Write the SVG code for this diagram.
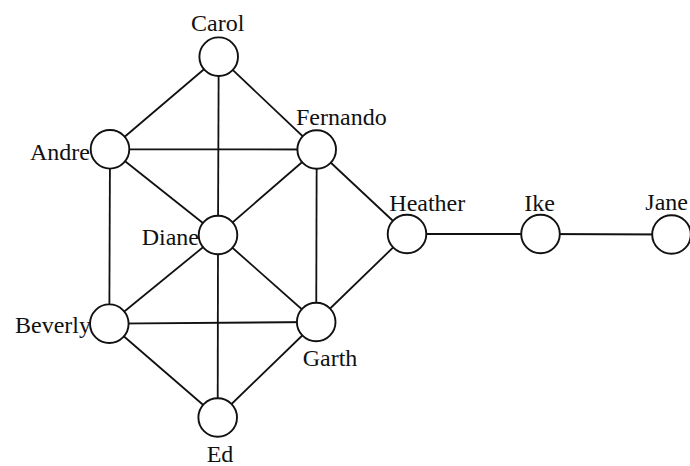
<svg xmlns="http://www.w3.org/2000/svg" width="690" height="466" viewBox="0 0 690 466">
  <style>
    .edge { stroke: #111; stroke-width: 1.8; fill: none; }
    .node circle { fill: #fff; stroke: #111; stroke-width: 1.9; }
    .node text { font-family: "Liberation Serif", "Times New Roman", serif; font-size: 24px; fill: #111; }
  </style>
  <rect width="690" height="466" fill="#fff"/>
  <g id="connectors">
    <line class="edge" x1="218.7" y1="56.7" x2="110" y2="149.3"/>
    <line class="edge" x1="218.7" y1="56.7" x2="316.7" y2="149.5"/>
    <line class="edge" x1="218.7" y1="56.7" x2="218" y2="235"/>
    <line class="edge" x1="110" y1="149.3" x2="316.7" y2="149.5"/>
    <line class="edge" x1="110" y1="149.3" x2="218" y2="235"/>
    <line class="edge" x1="110" y1="149.3" x2="109.3" y2="323.7"/>
    <line class="edge" x1="316.7" y1="149.5" x2="218" y2="235"/>
    <line class="edge" x1="316.7" y1="149.5" x2="316.2" y2="322"/>
    <line class="edge" x1="316.7" y1="149.5" x2="407" y2="234"/>
    <line class="edge" x1="218" y1="235" x2="109.3" y2="323.7"/>
    <line class="edge" x1="218" y1="235" x2="316.2" y2="322"/>
    <line class="edge" x1="218" y1="235" x2="217.7" y2="417.5"/>
    <line class="edge" x1="109.3" y1="323.7" x2="316.2" y2="322"/>
    <line class="edge" x1="109.3" y1="323.7" x2="217.7" y2="417.5"/>
    <line class="edge" x1="316.2" y1="322" x2="217.7" y2="417.5"/>
    <line class="edge" x1="316.2" y1="322" x2="407" y2="234"/>
    <line class="edge" x1="407" y1="234" x2="540.5" y2="234"/>
    <line class="edge" x1="540.5" y1="234" x2="671.5" y2="234.5"/>
  </g>
  <g id="carol" class="node">
    <circle cx="218.7" cy="56.7" r="19.3"/>
    <text x="191" y="31">Carol</text>
  </g>
  <g id="andre" class="node">
    <circle cx="110" cy="149.3" r="19.3"/>
    <text x="90" y="160" text-anchor="end">Andre</text>
  </g>
  <g id="fernando" class="node">
    <circle cx="316.7" cy="149.5" r="19.3"/>
    <text x="296" y="125">Fernando</text>
  </g>
  <g id="diane" class="node">
    <circle cx="218" cy="235" r="19.3"/>
    <text x="141.7" y="245">Diane</text>
  </g>
  <g id="heather" class="node">
    <circle cx="407" cy="234" r="19.3"/>
    <text x="389.3" y="211">Heather</text>
  </g>
  <g id="ike" class="node">
    <circle cx="540.5" cy="234" r="19.3"/>
    <text x="524.3" y="211">Ike</text>
  </g>
  <g id="jane" class="node">
    <circle cx="671.5" cy="234.5" r="19.3"/>
    <text x="688" y="210" text-anchor="end">Jane</text>
  </g>
  <g id="beverly" class="node">
    <circle cx="109.3" cy="323.7" r="19.3"/>
    <text x="15" y="333">Beverly</text>
  </g>
  <g id="garth" class="node">
    <circle cx="316.2" cy="322" r="19.3"/>
    <text x="302.7" y="366">Garth</text>
  </g>
  <g id="ed" class="node">
    <circle cx="217.7" cy="417.5" r="19.3"/>
    <text x="206.7" y="461.7">Ed</text>
  </g>
</svg>
